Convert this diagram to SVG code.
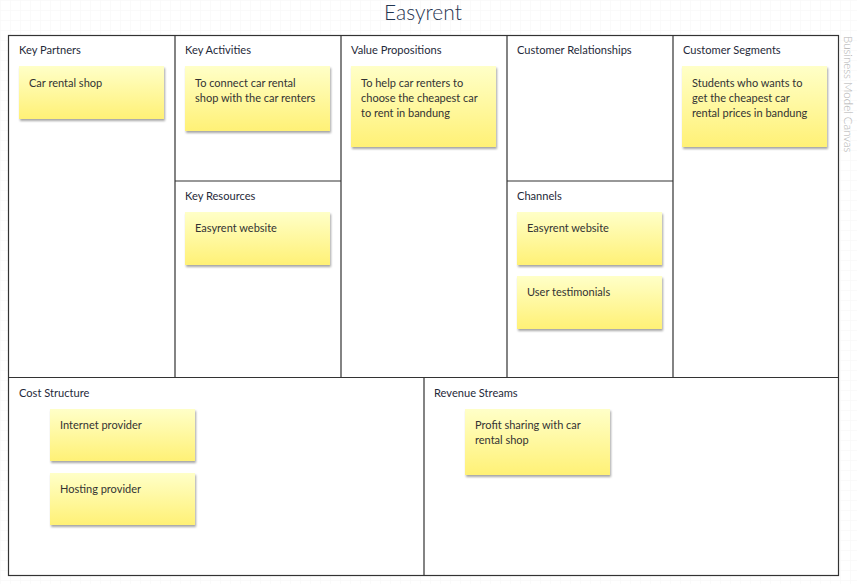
<svg xmlns="http://www.w3.org/2000/svg" width="857" height="584" viewBox="0 0 857 584">
<defs>
<pattern id="grid" width="10" height="10" patternUnits="userSpaceOnUse">
<path d="M10 0H0V10" fill="none" stroke="#f6f6f6" stroke-width="1"/>
</pattern>
<linearGradient id="sticky" x1="0" y1="0" x2="0" y2="1">
<stop offset="0" stop-color="#ffffc8"/>
<stop offset="1" stop-color="#fff176"/>
</linearGradient>
<filter id="shadow" x="-10%" y="-10%" width="130%" height="140%">
<feDropShadow dx="1" dy="2" stdDeviation="1.3" flood-color="#000" flood-opacity="0.35"/>
</filter>
</defs>
<style>
.frame{fill:#fff;stroke:#333;stroke-width:1.2}
.line{stroke:#333;stroke-width:1.2;fill:none}
.hd{font-family:Lato,"Liberation Sans",sans-serif;font-size:11.1px;fill:#1f2a3a}
.nt{font-family:Lato,"Liberation Sans",sans-serif;font-size:11px;fill:#333}
.note{fill:url(#sticky);filter:url(#shadow)}
.title{font-family:Lato,"Liberation Sans",sans-serif;font-size:21px;font-weight:300;fill:#1f3550}
.side{font-family:Lato,"Liberation Sans",sans-serif;font-size:11.5px;font-weight:300;fill:#b0b0b0}
</style>
<rect width="857" height="584" fill="#fff"/>
<rect width="857" height="584" fill="url(#grid)"/>
<text class="title" x="423" y="20" text-anchor="middle">Easyrent</text>
<text class="side" transform="translate(844,36) rotate(90)">Business Model Canvas</text>
<g id="canvas">
<rect class="frame" x="8.5" y="35.5" width="830" height="540"/>
<path class="line" d="M175 35.5V377M341 35.5V377M507 35.5V377M673 35.5V377M8.5 377.5H838.5M424 377.5V575.5M175 181H341M507 181H673"/>
</g>
<g id="key-partners">
<text class="hd" x="19" y="54">Key Partners</text>
<rect class="note" x="19" y="66" width="145" height="53"/>
<text class="nt" x="29" y="87">Car rental shop</text>
</g>
<g id="key-activities">
<text class="hd" x="185" y="54">Key Activities</text>
<rect class="note" x="185" y="66" width="145" height="65"/>
<text class="nt" x="195" y="87">To connect car rental</text>
<text class="nt" x="195" y="102">shop with the car renters</text>
</g>
<g id="key-resources">
<text class="hd" x="185" y="200">Key Resources</text>
<rect class="note" x="185" y="212" width="145" height="53"/>
<text class="nt" x="195" y="232">Easyrent website</text>
</g>
<g id="value-propositions">
<text class="hd" x="351" y="54">Value Propositions</text>
<rect class="note" x="351" y="66" width="145" height="81"/>
<text class="nt" x="361" y="87">To help car renters to</text>
<text class="nt" x="361" y="102">choose the cheapest car</text>
<text class="nt" x="361" y="117">to rent in bandung</text>
</g>
<g id="customer-relationships">
<text class="hd" x="517" y="54">Customer Relationships</text>
</g>
<g id="channels">
<text class="hd" x="517" y="200">Channels</text>
<rect class="note" x="517" y="212" width="145" height="53"/>
<text class="nt" x="527" y="232">Easyrent website</text>
<rect class="note" x="517" y="276" width="145" height="53"/>
<text class="nt" x="527" y="296">User testimonials</text>
</g>
<g id="customer-segments">
<text class="hd" x="683" y="54">Customer Segments</text>
<rect class="note" x="682" y="66" width="145" height="81"/>
<text class="nt" x="692" y="87">Students who wants to</text>
<text class="nt" x="692" y="102">get the cheapest car</text>
<text class="nt" x="692" y="117">rental prices in bandung</text>
</g>
<g id="cost-structure">
<text class="hd" x="19" y="397">Cost Structure</text>
<rect class="note" x="50" y="409" width="145" height="52"/>
<text class="nt" x="60" y="429">Internet provider</text>
<rect class="note" x="50" y="473" width="145" height="52"/>
<text class="nt" x="60" y="493">Hosting provider</text>
</g>
<g id="revenue-streams">
<text class="hd" x="434" y="397">Revenue Streams</text>
<rect class="note" x="465" y="409" width="145" height="66"/>
<text class="nt" x="475" y="429">Profit sharing with car</text>
<text class="nt" x="475" y="444">rental shop</text>
</g>
</svg>
